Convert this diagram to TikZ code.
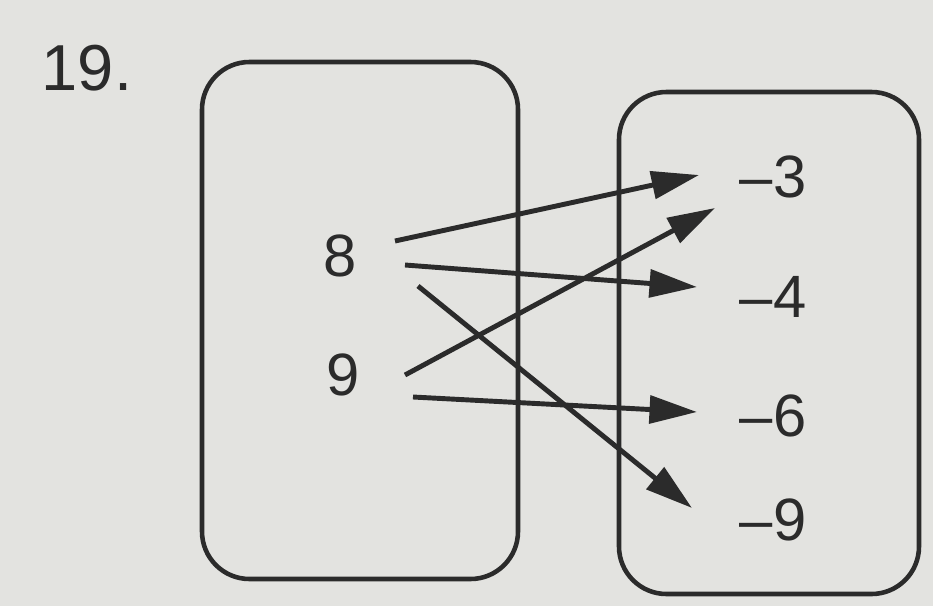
\documentclass[tikz,border=0pt]{standalone}
\usepackage{fontspec}
\setmainfont{Liberation Sans}
\usetikzlibrary{arrows.meta}
\definecolor{paper}{HTML}{E3E3E0}
\definecolor{ink}{HTML}{2B2B2B}
\begin{document}
\begin{tikzpicture}[x=0.02cm,y=-0.02cm,
  setbox/.style={draw=ink,line width=2.6pt,rounded corners=0.95cm},
  lbl/.style={text=ink,font=\fontsize{34}{34}\selectfont,inner sep=0pt},
  maparrow/.style={draw=ink,line width=2.8pt,-{Triangle[length=0.95cm,width=0.55cm]}}]
\fill[paper] (0,0) rectangle (933,606);
\useasboundingbox (0,0) rectangle (933,606);
\node[lbl,font=\fontsize{37}{37}\selectfont] (num) at (87,68) {19.};
\draw[setbox] (202,62) rectangle (518,579);
\draw[setbox] (619,92) rectangle (919,594);
\node[lbl] (x8) at (340,256) {8};
\node[lbl] (x9) at (343,375) {9};
\node[lbl] (y3) at (773,177) {–3};
\node[lbl] (y4) at (773,297) {–4};
\node[lbl] (y6) at (773,416) {–6};
\node[lbl] (y9) at (773,520) {–9};
\coordinate (s83) at (395,241);
\coordinate (s84) at (405,265);
\coordinate (s89) at (418,286);
\coordinate (s93) at (405,375);
\coordinate (s96) at (413,397);
\coordinate (e83) at (699,175);
\coordinate (e84) at (697,287);
\coordinate (e89) at (692,508);
\coordinate (e93) at (715,208);
\coordinate (e96) at (697,412);
\draw[maparrow] (s83) -- (e83);
\draw[maparrow] (s84) -- (e84);
\draw[maparrow] (s89) -- (e89);
\draw[maparrow] (s93) -- (e93);
\draw[maparrow] (s96) -- (e96);
\end{tikzpicture}
\end{document}
